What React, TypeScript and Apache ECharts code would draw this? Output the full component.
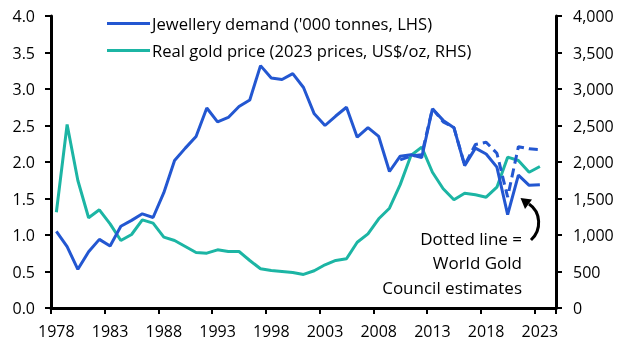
import React, { useEffect, useRef } from "react";
import * as echarts from "echarts";

const years: string[] = [];
for (let y = 1978; y <= 2024; y++) years.push(String(y));

// Jewellery demand ('000 tonnes), 1978-2023 (2024 empty)
const jewellery: (number | null)[] = [
  1.05, 0.84, 0.53, 0.77, 0.94, 0.85, 1.12, 1.2, 1.29, 1.24,
  1.58, 2.02, 2.19, 2.35, 2.74, 2.55, 2.61, 2.76, 2.85, 3.32,
  3.15, 3.13, 3.21, 3.02, 2.66, 2.5, 2.63, 2.75, 2.34, 2.47,
  2.35, 1.87, 2.08, 2.1, 2.06, 2.73, 2.57, 2.47, 1.95, 2.19,
  2.11, 1.93, 1.28, 1.82, 1.68, 1.69, null,
];

// World Gold Council estimates (dashed), from 2010
const wgc: (number | null)[] = [
  null, null, null, null, null, null, null, null, null, null,
  null, null, null, null, null, null, null, null, null, null,
  null, null, null, null, null, null, null, null, null, null,
  null, null, 2.03, 2.08, 2.1, 2.73, 2.55, 2.47, 1.96, 2.24,
  2.27, 2.12, 1.52, 2.21, 2.18, 2.17, null,
];

// Real gold price (2023 prices, US$/oz)
const goldPrice: (number | null)[] = [
  1312, 2514, 1747, 1236, 1345, 1153, 925, 1007, 1208, 1162,
  970, 925, 843, 760, 751, 797, 774, 774, 651, 537,
  514, 500, 486, 460, 510, 592, 651, 674, 901, 1016,
  1222, 1367, 1690, 2089, 2203, 1860, 1633, 1482, 1573, 1551,
  1518, 1655, 2066, 2021, 1860, 1938, null,
];

const BLUE = "#2357d1";
const TEAL = "#1cb5a4";
const FONT = "Open Sans";

export default function App() {
  const ref = useRef<HTMLDivElement>(null);
  useEffect(() => {
    if (!ref.current) return;
    const chart = echarts.init(ref.current, undefined, { renderer: "svg" });
    const axisLine = { show: true, lineStyle: { color: "#000", width: 3 } };
    const axisTick = { show: true, length: 6, lineStyle: { color: "#000", width: 2 } };
    chart.setOption({
      animation: false,
      textStyle: { fontFamily: FONT },
      grid: { left: 51, right: 74, top: 16, bottom: 47 },
      legend: {
        orient: "vertical",
        left: 102,
        top: 10,
        itemWidth: 43,
        itemHeight: 3,
        itemGap: 10,
        data: [
          { name: "Jewellery demand ('000 tonnes, LHS)", icon: "rect" },
          { name: "Real gold price (2023 prices, US$/oz, RHS)", icon: "rect" },
        ],
        textStyle: { fontFamily: FONT, fontSize: 16.6, color: "#000", padding: [0, 0, 0, -3] },
      },
      xAxis: {
        type: "category",
        data: years,
        boundaryGap: true,
        axisLine,
        axisTick: { ...axisTick, interval: 4 },
        axisLabel: { interval: 4, color: "#000", fontSize: 16, fontFamily: FONT, margin: 15 },
        splitLine: { show: false },
      },
      yAxis: [
        {
          type: "value",
          min: 0,
          max: 4,
          interval: 0.5,
          axisLine,
          axisTick,
          splitLine: { show: false },
          axisLabel: {
            color: "#000",
            fontSize: 16,
            fontFamily: FONT,
            margin: 16,
            formatter: (v: number) => v.toFixed(1),
          },
        },
        {
          type: "value",
          min: 0,
          max: 4000,
          interval: 500,
          position: "right",
          axisLine,
          axisTick,
          splitLine: { show: false },
          axisLabel: {
            color: "#000",
            fontSize: 16,
            fontFamily: FONT,
            margin: 17,
            formatter: (v: number) => v.toLocaleString("en-US"),
          },
        },
      ],
      series: [
        {
          name: "Real gold price (2023 prices, US$/oz, RHS)",
          type: "line",
          yAxisIndex: 1,
          data: goldPrice,
          showSymbol: false,
          symbol: "none",
          itemStyle: { color: TEAL },
          lineStyle: { color: TEAL, width: 3 },
        },
        {
          name: "Jewellery demand ('000 tonnes, LHS)",
          type: "line",
          yAxisIndex: 0,
          data: jewellery,
          showSymbol: false,
          symbol: "none",
          itemStyle: { color: BLUE },
          lineStyle: { color: BLUE, width: 3 },
        },
        {
          name: "WGC estimates",
          type: "line",
          yAxisIndex: 0,
          data: wgc,
          showSymbol: false,
          symbol: "none",
          itemStyle: { color: BLUE },
          lineStyle: { color: BLUE, width: 3, type: [9, 5] },
        },
      ],
      graphic: [
        {
          type: "text",
          x: 522,
          y: 226,
          style: {
            text: "Dotted line =\nWorld Gold\nCouncil estimates",
            fontFamily: FONT,
            fontSize: 17,
            lineHeight: 24.5,
            fill: "#000",
            align: "right",
            verticalAlign: "top",
          },
        },
        {
          type: "bezierCurve",
          shape: { x1: 531, y1: 240, cpx1: 542, cpy1: 230, cpx2: 541, cpy2: 212, x2: 529, y2: 204 },
          style: { stroke: "#000", lineWidth: 3, fill: "none" },
        },
        {
          type: "polygon",
          shape: { points: [[520.5, 198], [532, 199.5], [525, 209]] },
          style: { fill: "#000" },
        },
      ],
    });
    return () => chart.dispose();
  }, []);
  return (
    <div
      ref={ref}
      style={{ position: "fixed", left: 0, top: 0, width: 630, height: 355 }}
    />
  );
}
